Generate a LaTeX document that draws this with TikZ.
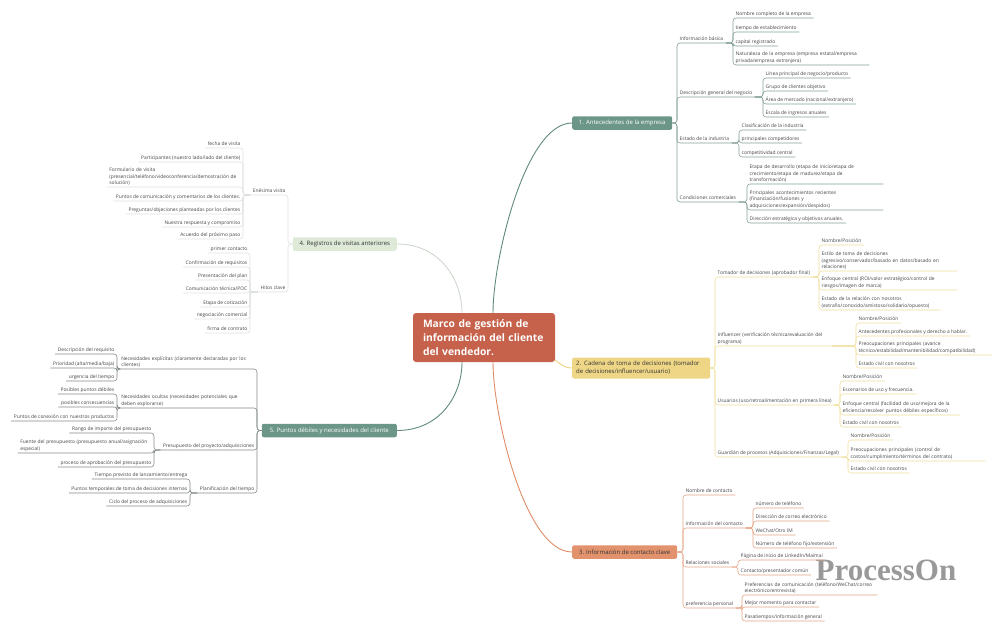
\documentclass[tikz,border=0pt]{standalone}
\usepackage{fontspec}
\setmainfont{Open Sans}
\newfontfamily\wmfont{Liberation Serif}
\usetikzlibrary{backgrounds}
\definecolor{rootc}{RGB}{198,98,76}
\definecolor{tealc}{RGB}{108,150,136}
\definecolor{yelc}{RGB}{238,214,134}
\definecolor{orgc}{RGB}{226,146,108}
\definecolor{grnc}{RGB}{222,233,216}
\definecolor{leafc}{RGB}{70,70,70}
\definecolor{line1}{RGB}{130,158,148}
\definecolor{line2}{RGB}{240,222,156}
\definecolor{line3}{RGB}{226,162,130}
\definecolor{line4}{RGB}{220,224,220}
\definecolor{line5}{RGB}{130,138,136}
\definecolor{curve1}{RGB}{96,138,126}
\definecolor{curve2}{RGB}{236,210,124}
\definecolor{curve3}{RGB}{222,140,102}
\definecolor{curve4}{RGB}{206,216,206}

\begin{document}
\begin{tikzpicture}[x=1pt, y=-1pt, line join=round,
	lf/.style={font=\fontsize{4.9}{6.6}\selectfont, text=leafc, inner xsep=2.5pt, inner ysep=1.4pt, anchor=south west, align=left},
	leaf/.style={lf, text depth=1.2pt},
	leafl/.style={leaf, anchor=south east},
	leafm/.style={lf, text width=#1},
	leafml/.style={lf, anchor=south east, text width=#1},
	topic/.style={font=\fontsize{6}{7.8}\selectfont, rounded corners=2pt, inner xsep=4pt, inner ysep=2pt, minimum height=13.5pt, align=left},
	crv/.style={line width=0.9pt},
	ln1/.style={draw=line1, line width=0.55pt, rounded corners=3pt},
	ln2/.style={draw=line2, line width=0.55pt, rounded corners=3pt},
	ln3/.style={draw=line3, line width=0.55pt, rounded corners=3pt},
	ln4/.style={draw=line4, line width=0.55pt, rounded corners=3pt},
	ln5/.style={draw=line5, line width=0.55pt, rounded corners=3pt}]
	\useasboundingbox (0,0) rectangle (1000,630);
	\node[fill=rootc, text=white, font=\bfseries\fontsize{10.3}{14}\selectfont, minimum width=142pt, minimum height=49pt, text width=122pt, inner xsep=10pt, inner ysep=0pt, align=left, rounded corners=3pt] (root) at (484,337.5) {Marco de gestión de\\información del cliente\\del vendedor.};
	% 1. Antecedentes
	\node[topic, fill=tealc, text=white, minimum width=100pt, anchor=west] (b1) at (572,123) {1. Antecedentes de la empresa};
	\node[leaf] (n1a) at (677,43) {Información básica};
	\node[leaf] (n1b) at (677,97) {Descripción general del negocio};
	\node[leaf] (n1c) at (677,143) {Estado de la industria};
	\node[leaf] (n1d) at (677,202) {Condiciones comerciales};
	\node[leaf] (n1a1) at (733,18) {Nombre completo de la empresa};
	\node[leaf] (n1a2) at (733,32) {tiempo de establecimiento};
	\node[leaf] (n1a3) at (733,46) {capital registrado};
	\node[leafm=131pt] (n1a4) at (733,65) {Naturaleza de la empresa (empresa estatal/empresa\\privada/empresa extranjera)};
	\node[leaf] (n1b1) at (763,78) {Línea principal de negocio/producto};
	\node[leaf] (n1b2) at (763,91) {Grupo de clientes objetivo};
	\node[leaf] (n1b3) at (763,104) {Área de mercado (nacional/extranjero)};
	\node[leaf] (n1b4) at (763,117) {Escala de ingresos anuales};
	\node[leaf] (n1c1) at (739,130) {Clasificación de la industria};
	\node[leaf] (n1c2) at (739,143) {principales competidores};
	\node[leaf] (n1c3) at (739,157) {competitividad central};
	\node[leafm=131pt] (n1d1) at (747,184) {Etapa de desarrollo (etapa de inicio/etapa de\\crecimiento/etapa de madurez/etapa de\\transformación)};
	\node[leafm=131pt] (n1d2) at (747,210) {Principales acontecimientos recientes\\(financiación/fusiones y\\adquisiciones/expansión/despidos)};
	\node[leaf] (n1d3) at (747,223) {Dirección estratégica y objetivos anuales.};
	% 2. Cadena de toma de decisiones
	\node[topic, fill=yelc, text=black!80, text width=130pt, minimum height=21pt, anchor=west] (b2) at (572,368) {2. Cadena de toma de decisiones (tomador\\de decisiones/influencer/usuario)};
	\node[leaf] (n2a) at (715,277) {Tomador de decisiones (aprobador final)};
	\node[leafm=112pt] (n2b) at (715,346) {Influencer (verificación técnica/evaluación del\\programa)};
	\node[leaf] (n2c) at (715,405) {Usuarios (uso/retroalimentación en primera línea)};
	\node[leaf] (n2d) at (715,457) {Guardián de procesos (Adquisiciones/Finanzas/Legal)};
	\node[leaf] (n2a1) at (819,245) {Nombre/Posición};
	\node[leafm=133pt] (n2a2) at (819,271) {Estilo de toma de decisiones\\(agresivo/conservador/basado en datos/basado en\\relaciones)};
	\node[leafm=133pt] (n2a3) at (819,290) {Enfoque central (ROI/valor estratégico/control de\\riesgos/imagen de marca)};
	\node[leafm=116pt] (n2a4) at (819,310) {Estado de la relación con nosotros\\(extraño/conocido/amistoso/solidario/opuesto)};
	\node[leaf] (n2b1) at (856,323) {Nombre/Posición};
	\node[leaf] (n2b2) at (856,336) {Antecedentes profesionales y derecho a hablar.};
	\node[leafm=131pt] (n2b3) at (856,355) {Preocupaciones principales (avance\\técnico/estabilidad/mantenibilidad/compatibilidad)};
	\node[leaf] (n2b4) at (856,368) {Estado civil con nosotros};
	\node[leaf] (n2c1) at (840,381) {Nombre/Posición};
	\node[leaf] (n2c2) at (840,394) {Escenarios de uso y frecuencia.};
	\node[leafm=115pt] (n2c3) at (840,415) {Enfoque central (facilidad de uso/mejora de la\\eficiencia/resolver puntos débiles específicos)};
	\node[leaf] (n2c4) at (840,427) {Estado civil con nosotros};
	\node[leaf] (n2d1) at (848,440) {Nombre/Posición};
	\node[leafm=132pt] (n2d2) at (848,461) {Preocupaciones principales (control de\\costos/cumplimiento/términos del contrato)};
	\node[leaf] (n2d3) at (848,473) {Estado civil con nosotros};
	% 3. Informacion de contacto
	\node[topic, fill=orgc, text=black!80, minimum width=105pt, anchor=west] (b3) at (572,552) {3. Información de contacto clave};
	\node[leaf] (n3a) at (683,495) {Nombre de contacto};
	\node[leaf] (n3b) at (683,528) {Información del contacto};
	\node[leaf] (n3c) at (683,567) {Relaciones sociales};
	\node[leaf] (n3d) at (683,608) {preferencia personal};
	\node[leaf] (n3b1) at (753,508) {número de teléfono};
	\node[leaf] (n3b2) at (753,521) {Dirección de correo electrónico};
	\node[leaf] (n3b3) at (753,535) {WeChat/Otro IM};
	\node[leaf] (n3b4) at (753,548) {Número de teléfono fijo/extensión};
	\node[leaf] (n3c1) at (738,560) {Página de inicio de LinkedIn/Maimai};
	\node[leaf] (n3c2) at (738,575) {Contacto/presentador común};
	\node[leafm=130pt] (n3d1) at (742,595) {Preferencias de comunicación (teléfono/WeChat/correo\\electrónico/entrevista)};
	\node[leaf] (n3d2) at (742,607) {Mejor momento para contactar};
	\node[leaf] (n3d3) at (742,621) {Pasatiempos/información general};
	% 4. Registros de visitas
	\node[topic, fill=grnc, text=black!80, minimum width=104pt, anchor=east] (b4) at (397,244) {4. Registros de visitas anteriores};
	\node[leafl] (n4a) at (288,195) {Enésima visita};
	\node[leafl] (n4b) at (288,292) {Hitos clave};
	\node[leafl] (n4a1) at (243,148) {fecha de visita};
	\node[leafl] (n4a2) at (243,162) {Participantes (nuestro lado/lado del cliente)};
	\node[leafml=131pt] (n4a3) at (243,187) {Formulario de visita\\(presencial/teléfono/videoconferencia/demostración de\\solución)};
	\node[leafl] (n4a4) at (243,201) {Puntos de comunicación y comentarios de los clientes.};
	\node[leafl] (n4a5) at (243,214) {Preguntas/objeciones planteadas por los clientes};
	\node[leafl] (n4a6) at (243,227) {Nuestra respuesta y compromiso};
	\node[leafl] (n4a7) at (243,239) {Acuerdo del próximo paso};
	\node[leafl] (n4b1) at (250,253) {primer contacto};
	\node[leafl] (n4b2) at (250,267) {Confirmación de requisitos};
	\node[leafl] (n4b3) at (250,280) {Presentación del plan};
	\node[leafl] (n4b4) at (250,293) {Comunicación técnica/POC};
	\node[leafl] (n4b5) at (250,307) {Etapa de cotización};
	\node[leafl] (n4b6) at (250,319) {negociación comercial};
	\node[leafl] (n4b7) at (250,333) {firma de contrato};
	% 5. Puntos debiles
	\node[topic, fill=tealc, text=white, minimum width=135pt, anchor=east] (b5) at (397,430.5) {5. Puntos débiles y necesidades del cliente};
	\node[leafml=133pt] (n5a) at (257,369) {Necesidades explícitas (claramente declaradas por los\\clientes)};
	\node[leafml=133pt] (n5b) at (257,408) {Necesidades ocultas (necesidades potenciales que\\deben explorarse)};
	\node[leafl] (n5c) at (257,450) {Presupuesto del proyecto/adquisiciones};
	\node[leafl] (n5d) at (257,493) {Planificación del tiempo};
	\node[leafl] (n5a1) at (117,354) {Descripción del requisito};
	\node[leafl] (n5a2) at (117,368) {Prioridad (alta/media/baja)};
	\node[leafl] (n5a3) at (117,381) {urgencia del tiempo};
	\node[leafl] (n5b1) at (117,394) {Posibles puntos débiles};
	\node[leafl] (n5b2) at (117,407) {posibles consecuencias};
	\node[leafl] (n5b3) at (117,421) {Puntos de conexión con nuestros productos};
	\node[leafl] (n5c1) at (154,433) {Rango de importe del presupuesto};
	\node[leafml=131pt] (n5c2) at (154,453) {Fuente del presupuesto (presupuesto anual/asignación\\especial)};
	\node[leafl] (n5c3) at (154,467) {proceso de aprobación del presupuesto};
	\node[leafl] (n5d1) at (190,479) {Tiempo previsto de lanzamiento/entrega};
	\node[leafl] (n5d2) at (190,493) {Puntos temporales de toma de decisiones internas};
	\node[leafl] (n5d3) at (190,506) {Ciclo del proceso de adquisiciones};
	\node[font=\wmfont\bfseries\fontsize{31}{31}\selectfont, text=black!40] (wm) at (886,570) {ProcessOn};
	% main curves
	\begin{scope}[on background layer]
		\draw[crv, draw=curve1] ([xshift=9pt]root.north) .. controls +(0,-53) and +(-47,0) .. (b1.west);
		\draw[crv, draw=curve2] (root.center) .. controls +(71,3) and +(-20,0) .. (b2.west);
		\draw[crv, draw=curve3] ([xshift=9pt]root.south) .. controls +(0,53) and +(-47,0) .. (b3.west);
		\draw[crv, draw=curve4] ([xshift=-22pt]root.north) .. controls +(0,-33) and +(43,0) .. (b4.east);
		\draw[crv, draw=curve1] ([xshift=-22pt]root.south) .. controls +(0,33) and +(43,0) .. (b5.east);
	\end{scope}
	% branch 1
	\foreach \c in {n1a,n1b,n1c,n1d}
		\draw[ln1] (b1.east) -| (\c.south west) -- (\c.south east);
	\foreach \c in {n1a1,n1a2,n1a3,n1a4}
		\draw[ln1] (n1a.south east) -| (\c.south west) -- (\c.south east);
	\foreach \c in {n1b1,n1b2,n1b3,n1b4}
		\draw[ln1] (n1b.south east) -| (\c.south west) -- (\c.south east);
	\foreach \c in {n1c1,n1c2,n1c3}
		\draw[ln1] (n1c.south east) -| (\c.south west) -- (\c.south east);
	\foreach \c in {n1d1,n1d2,n1d3}
		\draw[ln1] (n1d.south east) -| (\c.south west) -- (\c.south east);
	% branch 2
	\foreach \c in {n2a,n2b,n2c,n2d}
		\draw[ln2] (b2.east) -| (\c.south west) -- (\c.south east);
	\foreach \c in {n2a1,n2a2,n2a3,n2a4}
		\draw[ln2] (n2a.south east) -| (\c.south west) -- (\c.south east);
	\foreach \c in {n2b1,n2b2,n2b3,n2b4}
		\draw[ln2] (n2b.south east) -| (\c.south west) -- (\c.south east);
	\foreach \c in {n2c1,n2c2,n2c3,n2c4}
		\draw[ln2] (n2c.south east) -| (\c.south west) -- (\c.south east);
	\foreach \c in {n2d1,n2d2,n2d3}
		\draw[ln2] (n2d.south east) -| (\c.south west) -- (\c.south east);
	% branch 3
	\foreach \c in {n3a,n3b,n3c,n3d}
		\draw[ln3] (b3.east) -| (\c.south west) -- (\c.south east);
	\foreach \c in {n3b1,n3b2,n3b3,n3b4}
		\draw[ln3] (n3b.south east) -| (\c.south west) -- (\c.south east);
	\foreach \c in {n3c1,n3c2}
		\draw[ln3] (n3c.south east) -| (\c.south west) -- (\c.south east);
	\foreach \c in {n3d1,n3d2,n3d3}
		\draw[ln3] (n3d.south east) -| (\c.south west) -- (\c.south east);
	% branch 4
	\foreach \c in {n4a,n4b}
		\draw[ln4] (b4.west) -| (\c.south east) -- (\c.south west);
	\foreach \c in {n4a1,n4a2,n4a3,n4a4,n4a5,n4a6,n4a7}
		\draw[ln4] (n4a.south west) -| (\c.south east) -- (\c.south west);
	\foreach \c in {n4b1,n4b2,n4b3,n4b4,n4b5,n4b6,n4b7}
		\draw[ln4] (n4b.south west) -| (\c.south east) -- (\c.south west);
	% branch 5
	\foreach \c in {n5a,n5b,n5c,n5d}
		\draw[ln5] (b5.west) -| (\c.south east) -- (\c.south west);
	\foreach \c in {n5a1,n5a2,n5a3}
		\draw[ln5] (n5a.south west) -| (\c.south east) -- (\c.south west);
	\foreach \c in {n5b1,n5b2,n5b3}
		\draw[ln5] (n5b.south west) -| (\c.south east) -- (\c.south west);
	\foreach \c in {n5c1,n5c2,n5c3}
		\draw[ln5] (n5c.south west) -| (\c.south east) -- (\c.south west);
	\foreach \c in {n5d1,n5d2,n5d3}
		\draw[ln5] (n5d.south west) -| (\c.south east) -- (\c.south west);
\end{tikzpicture}
\end{document}
